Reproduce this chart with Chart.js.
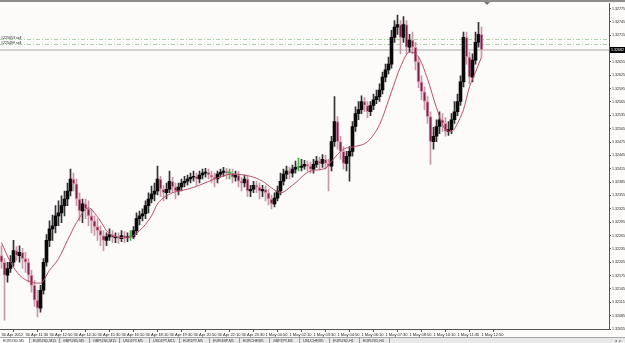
<!DOCTYPE html>
<html>
<head>
<meta charset="utf-8">
<script src="https://cdn.jsdelivr.net/npm/chart.js@4.4.0/dist/chart.umd.min.js"></script>
<style>
  html, body { margin: 0; padding: 0; background: #fdfafa; }
</style>
</head>
<body>
<canvas id="myChart" width="625" height="343"></canvas>
<script>
// EURUSD candles, one entry per bar (oldest first)
const opens = [1.32220, 1.32205, 1.32176, 1.32191, 1.32205, 1.32231, 1.32220, 1.32227, 1.32213, 1.32205,
  1.32176, 1.32153, 1.32120, 1.32102, 1.32142, 1.32205, 1.32254, 1.32280, 1.32287, 1.32309,
  1.32316, 1.32332, 1.32347, 1.32365, 1.32392, 1.32381, 1.32347, 1.32320, 1.32336, 1.32325,
  1.32309, 1.32298, 1.32285, 1.32276, 1.32265, 1.32254, 1.32262, 1.32267, 1.32260, 1.32262,
  1.32258, 1.32265, 1.32260, 1.32262, 1.32262, 1.32276, 1.32303, 1.32309, 1.32314, 1.32332,
  1.32347, 1.32358, 1.32365, 1.32392, 1.32369, 1.32361, 1.32369, 1.32387, 1.32374, 1.32365,
  1.32374, 1.32383, 1.32387, 1.32392, 1.32396, 1.32398, 1.32392, 1.32401, 1.32405, 1.32407,
  1.32401, 1.32396, 1.32392, 1.32403, 1.32407, 1.32410, 1.32405, 1.32405, 1.32396, 1.32401,
  1.32387, 1.32383, 1.32392, 1.32365, 1.32369, 1.32378, 1.32374, 1.32365, 1.32369, 1.32361,
  1.32347, 1.32336, 1.32349, 1.32365, 1.32387, 1.32403, 1.32410, 1.32405, 1.32414, 1.32418,
  1.32418, 1.32421, 1.32425, 1.32421, 1.32414, 1.32425, 1.32432, 1.32427, 1.32436, 1.32427,
  1.32421, 1.32476, 1.32521, 1.32476, 1.32454, 1.32427, 1.32443, 1.32454, 1.32510, 1.32539,
  1.32548, 1.32566, 1.32557, 1.32543, 1.32557, 1.32570, 1.32577, 1.32592, 1.32621, 1.32637,
  1.32650, 1.32710, 1.32733, 1.32739, 1.32710, 1.32739, 1.32688, 1.32704, 1.32688, 1.32655,
  1.32610, 1.32588, 1.32566, 1.32532, 1.32476, 1.32488, 1.32510, 1.32525, 1.32517, 1.32499,
  1.32503, 1.32525, 1.32543, 1.32566, 1.32610, 1.32710, 1.32666, 1.32621, 1.32659, 1.32699,
  1.32717];
const highs = [1.32242, 1.32213, 1.32205, 1.32220, 1.32254, 1.32240, 1.32242, 1.32236, 1.32227, 1.32213,
  1.32187, 1.32164, 1.32142, 1.32153, 1.32213, 1.32267, 1.32298, 1.32311, 1.32332, 1.32343,
  1.32354, 1.32365, 1.32383, 1.32414, 1.32405, 1.32392, 1.32361, 1.32347, 1.32347, 1.32343,
  1.32325, 1.32309, 1.32303, 1.32287, 1.32276, 1.32271, 1.32280, 1.32276, 1.32271, 1.32271,
  1.32276, 1.32274, 1.32271, 1.32276, 1.32285, 1.32316, 1.32320, 1.32325, 1.32343, 1.32361,
  1.32376, 1.32383, 1.32421, 1.32398, 1.32378, 1.32383, 1.32410, 1.32396, 1.32383, 1.32383,
  1.32392, 1.32398, 1.32401, 1.32405, 1.32410, 1.32405, 1.32410, 1.32414, 1.32416, 1.32414,
  1.32410, 1.32405, 1.32410, 1.32414, 1.32418, 1.32416, 1.32414, 1.32414, 1.32410, 1.32410,
  1.32396, 1.32401, 1.32398, 1.32378, 1.32387, 1.32387, 1.32383, 1.32378, 1.32376, 1.32369,
  1.32356, 1.32361, 1.32376, 1.32405, 1.32414, 1.32421, 1.32418, 1.32423, 1.32432, 1.32439,
  1.32436, 1.32434, 1.32432, 1.32430, 1.32436, 1.32443, 1.32441, 1.32447, 1.32445, 1.32436,
  1.32488, 1.32577, 1.32532, 1.32488, 1.32465, 1.32454, 1.32465, 1.32521, 1.32554, 1.32566,
  1.32579, 1.32575, 1.32566, 1.32566, 1.32583, 1.32592, 1.32606, 1.32632, 1.32650, 1.32666,
  1.32726, 1.32748, 1.32760, 1.32748, 1.32757, 1.32748, 1.32717, 1.32722, 1.32699, 1.32666,
  1.32624, 1.32599, 1.32577, 1.32543, 1.32508, 1.32525, 1.32543, 1.32539, 1.32530, 1.32521,
  1.32539, 1.32566, 1.32583, 1.32624, 1.32722, 1.32722, 1.32677, 1.32673, 1.32722, 1.32744,
  1.32733];
const lows = [1.32191, 1.32075, 1.32160, 1.32182, 1.32196, 1.32209, 1.32205, 1.32191, 1.32182, 1.32160,
  1.32138, 1.32106, 1.32082, 1.32093, 1.32133, 1.32196, 1.32240, 1.32254, 1.32271, 1.32287,
  1.32294, 1.32309, 1.32332, 1.32354, 1.32365, 1.32332, 1.32298, 1.32294, 1.32303, 1.32287,
  1.32271, 1.32265, 1.32254, 1.32242, 1.32231, 1.32242, 1.32254, 1.32249, 1.32249, 1.32247,
  1.32251, 1.32249, 1.32251, 1.32254, 1.32258, 1.32267, 1.32289, 1.32298, 1.32303, 1.32316,
  1.32338, 1.32343, 1.32356, 1.32352, 1.32343, 1.32347, 1.32361, 1.32361, 1.32347, 1.32356,
  1.32365, 1.32374, 1.32378, 1.32383, 1.32387, 1.32378, 1.32383, 1.32392, 1.32396, 1.32392,
  1.32383, 1.32374, 1.32383, 1.32396, 1.32398, 1.32392, 1.32392, 1.32383, 1.32387, 1.32374,
  1.32365, 1.32374, 1.32352, 1.32352, 1.32361, 1.32361, 1.32347, 1.32352, 1.32343, 1.32334,
  1.32325, 1.32329, 1.32343, 1.32356, 1.32378, 1.32392, 1.32392, 1.32396, 1.32405, 1.32410,
  1.32410, 1.32414, 1.32410, 1.32405, 1.32405, 1.32418, 1.32414, 1.32418, 1.32414, 1.32365,
  1.32410, 1.32465, 1.32459, 1.32436, 1.32414, 1.32410, 1.32387, 1.32443, 1.32499, 1.32525,
  1.32539, 1.32543, 1.32530, 1.32534, 1.32548, 1.32561, 1.32566, 1.32583, 1.32610, 1.32628,
  1.32641, 1.32699, 1.32717, 1.32673, 1.32699, 1.32673, 1.32677, 1.32673, 1.32637, 1.32597,
  1.32570, 1.32548, 1.32517, 1.32425, 1.32459, 1.32476, 1.32494, 1.32499, 1.32488, 1.32490,
  1.32494, 1.32517, 1.32534, 1.32557, 1.32599, 1.32650, 1.32606, 1.32610, 1.32650, 1.32688,
  1.32666];
const closes = [1.32205, 1.32176, 1.32191, 1.32205, 1.32231, 1.32220, 1.32227, 1.32213, 1.32205, 1.32176,
  1.32153, 1.32120, 1.32102, 1.32142, 1.32205, 1.32254, 1.32280, 1.32287, 1.32309, 1.32316,
  1.32332, 1.32347, 1.32365, 1.32392, 1.32381, 1.32347, 1.32320, 1.32336, 1.32325, 1.32309,
  1.32298, 1.32285, 1.32276, 1.32265, 1.32254, 1.32262, 1.32267, 1.32260, 1.32262, 1.32258,
  1.32265, 1.32260, 1.32262, 1.32262, 1.32276, 1.32303, 1.32309, 1.32314, 1.32332, 1.32347,
  1.32358, 1.32365, 1.32392, 1.32369, 1.32361, 1.32369, 1.32387, 1.32374, 1.32365, 1.32374,
  1.32383, 1.32387, 1.32392, 1.32396, 1.32398, 1.32392, 1.32401, 1.32405, 1.32407, 1.32401,
  1.32396, 1.32392, 1.32403, 1.32407, 1.32410, 1.32405, 1.32405, 1.32396, 1.32401, 1.32387,
  1.32383, 1.32392, 1.32365, 1.32369, 1.32378, 1.32374, 1.32365, 1.32369, 1.32361, 1.32347,
  1.32336, 1.32349, 1.32365, 1.32387, 1.32403, 1.32410, 1.32405, 1.32414, 1.32418, 1.32418,
  1.32421, 1.32425, 1.32421, 1.32414, 1.32425, 1.32432, 1.32427, 1.32436, 1.32427, 1.32421,
  1.32476, 1.32521, 1.32476, 1.32454, 1.32427, 1.32443, 1.32454, 1.32510, 1.32539, 1.32548,
  1.32566, 1.32557, 1.32543, 1.32557, 1.32570, 1.32577, 1.32592, 1.32621, 1.32637, 1.32650,
  1.32710, 1.32733, 1.32739, 1.32710, 1.32739, 1.32688, 1.32704, 1.32688, 1.32655, 1.32610,
  1.32588, 1.32566, 1.32532, 1.32476, 1.32488, 1.32510, 1.32525, 1.32517, 1.32499, 1.32503,
  1.32525, 1.32543, 1.32566, 1.32610, 1.32710, 1.32666, 1.32621, 1.32659, 1.32699, 1.32717,
  1.32682];

// moving average, read at some bars only
const maBars = [0, 3, 6, 10, 13, 16, 19, 22, 25, 29, 32, 36, 42, 46, 50, 52, 57, 62, 66, 71,
  77, 83, 87, 90, 93, 97, 103, 108, 110, 114, 118, 122, 126, 130, 133, 136, 139, 142, 145, 148,
  150, 152, 154, 156, 158, 160];
const maValues = [1.32249, 1.32205, 1.32176, 1.32160, 1.32158, 1.32187, 1.32213, 1.32254, 1.32294, 1.32327,
  1.32307, 1.32269, 1.32260, 1.32276, 1.32309, 1.32336, 1.32361, 1.32369, 1.32378, 1.32392,
  1.32403, 1.32398, 1.32387, 1.32372, 1.32361, 1.32378, 1.32410, 1.32416, 1.32432, 1.32459,
  1.32465, 1.32476, 1.32514, 1.32588, 1.32644, 1.32677, 1.32666, 1.32617, 1.32552, 1.32503,
  1.32499, 1.32517, 1.32548, 1.32599, 1.32632, 1.32666];

const timeLabels = ['30 Apr 2012', '30 Apr 11:30', '30 Apr 12:50', '30 Apr 14:10', '30 Apr 15:30',
  '30 Apr 16:50', '30 Apr 18:10', '30 Apr 19:30', '30 Apr 20:50', '30 Apr 22:10', '30 Apr 23:30',
  '1 May 00:50', '1 May 02:10', '1 May 03:30', '1 May 04:50', '1 May 06:10', '1 May 07:30',
  '1 May 08:50', '1 May 10:10', '1 May 11:30', '1 May 12:50'];
const timeTickBars = [0, 8, 16, 24, 32, 40, 48, 56, 64, 72, 80, 88, 96, 104, 112, 120, 128, 136, 144, 152, 160];
const priceTicks = [1.32055, 1.32085, 1.32115, 1.32145, 1.32175, 1.32205, 1.32235, 1.32265, 1.32295,
  1.32325, 1.32355, 1.32385, 1.32415, 1.32445, 1.32475, 1.32505, 1.32535, 1.32565, 1.32595,
  1.32625, 1.32655, 1.32685, 1.32715, 1.32745, 1.32775];

const orderLabels = ['#225653 sell', '#225499 sell'];
const orderPrices = [1.32706, 1.32695];
const bidPrice = 1.32682;
const tabLabels = ['EURUSD,M5', 'EURUSD,M15', 'GBPUSD,M5', 'GBPUSD,M15', 'USDJPY,M5', 'USDJPY,M15',
  'EURJPY,M5', 'EURGBP,M5', 'EURCHF,M5', 'GBPJPY,M5', 'USDCHF,M5', 'EURUSD,H1', 'EURUSD,H4'];

const bullColor = '#0a0a0a';
const bearColor = '#7c2048';
const bearEdge = '#d996ad';
const dojiColor = '#44b044';
const fontName = '"Liberation Sans", Arial, sans-serif';

function kind(i) {
    if (closes[i] > opens[i]) return 'bull';
    if (closes[i] < opens[i]) return 'bear';
    return 'doji';
}

const bodyFill = closes.map((c, i) => kind(i) === 'bull' ? bullColor : (kind(i) === 'bear' ? bearColor : dojiColor));
const bodyEdge = closes.map((c, i) => kind(i) === 'bear' ? bearEdge : bodyFill[i]);
const wickFill = closes.map((c, i) => kind(i) === 'bull' ? '#333333' : (kind(i) === 'bear' ? '#c998a8' : dojiColor));

const mtDecor = {
    id: 'mtDecor',
    beforeDraw(chart) {
        const ctx = chart.ctx;
        ctx.save();
        ctx.fillStyle = '#fdfafa';
        ctx.fillRect(0, 0, chart.width, chart.height);
        ctx.restore();
    },
    beforeDatasetsDraw(chart) {
        const ctx = chart.ctx;
        const a = chart.chartArea;
        const y = chart.scales.y;
        ctx.save();
        // order lines
        ctx.strokeStyle = '#a6d4a6';
        ctx.lineWidth = 1;
        ctx.setLineDash([4, 2, 1, 2]);
        orderPrices.forEach(p => {
            const py = Math.round(y.getPixelForValue(p)) + 0.5;
            ctx.beginPath();
            ctx.moveTo(a.left, py);
            ctx.lineTo(a.right, py);
            ctx.stroke();
        });
        // bid line
        ctx.setLineDash([]);
        ctx.strokeStyle = '#d2d2d2';
        ctx.lineWidth = 2;
        const by = Math.round(y.getPixelForValue(bidPrice));
        ctx.beginPath();
        ctx.moveTo(a.left, by);
        ctx.lineTo(a.right, by);
        ctx.stroke();
        ctx.restore();
    },
    afterDraw(chart) {
        const ctx = chart.ctx;
        const a = chart.chartArea;
        const y = chart.scales.y;
        const W = chart.width, H = chart.height;
        ctx.save();
        // window top edge
        ctx.fillStyle = '#8e8e8e';
        ctx.fillRect(0, 0, W, 2);
        // shift marker
        ctx.fillStyle = '#777';
        ctx.beginPath();
        ctx.moveTo(484, 2);
        ctx.lineTo(490, 2);
        ctx.lineTo(487, 5);
        ctx.closePath();
        ctx.fill();
        // order labels
        ctx.font = '3.6px ' + fontName;
        ctx.fillStyle = '#222';
        ctx.textBaseline = 'bottom';
        ctx.textAlign = 'left';
        orderPrices.forEach((p, i) => {
            const py = Math.round(y.getPixelForValue(p));
            ctx.fillText(orderLabels[i], 1, py + 0.5);
        });
        // bid price box on the axis
        const by = Math.round(y.getPixelForValue(bidPrice));
        ctx.fillStyle = '#000';
        ctx.fillRect(a.right + 1, by - 3, W - a.right - 1, 6);
        ctx.fillStyle = '#fff';
        ctx.textBaseline = 'middle';
        ctx.fillText(bidPrice.toFixed(5), a.right + 2, by);
        // tab bar
        const tabTop = H - 6;
        ctx.fillStyle = '#e9e9e9';
        ctx.fillRect(0, tabTop, W, 6);
        ctx.fillStyle = '#a8a8a8';
        ctx.fillRect(0, tabTop, W, 1);
        ctx.fillStyle = '#ffffff';
        ctx.fillRect(0, tabTop + 1, 29, 5);
        ctx.font = '3.6px ' + fontName;
        ctx.textBaseline = 'middle';
        tabLabels.forEach((t, i) => {
            const tx = i * 30;
            ctx.fillStyle = '#333';
            ctx.fillText(t, tx + 3, tabTop + 3.5);
            ctx.fillStyle = '#9a9a9a';
            ctx.fillRect(tx + 29, tabTop + 1, 1, 5);
        });
        ctx.fillStyle = '#666';
        ctx.fillText('\u25C4 \u25BA', W - 11, tabTop + 3.5);
        ctx.restore();
    }
};

new Chart(document.getElementById('myChart'), {
    type: 'bar',
    data: {
        datasets: [
            {
                type: 'line',
                label: 'MA',
                data: maBars.map((b, i) => ({ x: b, y: maValues[i] })),
                borderColor: '#b8506a',
                borderWidth: 1,
                pointRadius: 0,
                tension: 0.4,
                cubicInterpolationMode: 'monotone'
            },
            {
                label: 'body',
                data: opens.map((o, i) => ({ x: i, y: [o, closes[i]] })),
                backgroundColor: bodyFill,
                borderColor: bodyEdge,
                borderWidth: c => kind(c.dataIndex) === 'bear' ? 1 : 0,
                borderSkipped: false,
                barThickness: 3,
                minBarLength: 1,
                grouped: false
            },
            {
                label: 'wick',
                data: lows.map((l, i) => ({ x: i, y: [l, highs[i]] })),
                backgroundColor: wickFill,
                borderWidth: 0,
                barThickness: 1,
                grouped: false
            }
        ]
    },
    options: {
        responsive: false,
        animation: false,
        devicePixelRatio: 1,
        layout: { padding: { top: 3, bottom: 6, left: 0, right: 0 } },
        plugins: { legend: { display: false }, tooltip: { enabled: false } },
        scales: {
            x: {
                type: 'linear',
                min: -0.5,
                max: 202.5,
                offset: false,
                grid: { drawOnChartArea: false, drawTicks: true, tickLength: 3, color: '#555' },
                border: { display: true, color: '#555' },
                afterBuildTicks: axis => { axis.ticks = timeTickBars.map(v => ({ value: v })); },
                afterFit: s => { s.height = 8; },
                ticks: {
                    align: 'start',
                    autoSkip: false,
                    maxRotation: 0,
                    padding: 0,
                    color: '#222',
                    font: { size: 4, family: fontName },
                    callback: (v, i) => timeLabels[i]
                }
            },
            y: {
                type: 'linear',
                position: 'right',
                min: 1.32055,
                max: 1.32787,
                grid: { drawOnChartArea: false, drawTicks: true, tickLength: 2, color: '#555' },
                border: { display: true, color: '#555' },
                afterBuildTicks: axis => { axis.ticks = priceTicks.map(v => ({ value: v })); },
                afterFit: s => { s.width = 16; },
                ticks: {
                    padding: 1,
                    color: '#222',
                    font: { size: 3.6, family: fontName },
                    callback: v => v.toFixed(5)
                }
            }
        }
    },
    plugins: [mtDecor]
});
</script>
</body>
</html>
